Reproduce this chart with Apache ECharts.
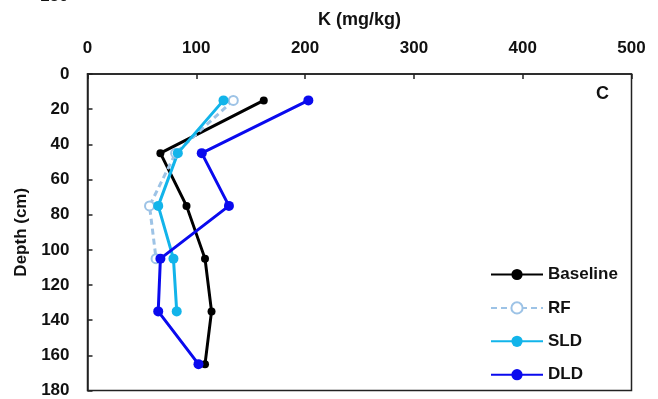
<!DOCTYPE html>
<html><head><meta charset="utf-8">
<script src="https://cdn.jsdelivr.net/npm/echarts@6/dist/echarts.min.js"></script>
<style>html,body{margin:0;padding:0;background:#fff}#c{width:658px;height:399px}</style>
</head><body><div id="c"></div>
<script>
const depths = [15, 45, 75, 105, 135, 165];
const baseline = [162, 67, 91, 108, 114, 108];
const rf = [134, 81, 57, 63];
const sld = [125, 83, 65, 79, 82];
const dld = [203, 105, 130, 67, 65, 102];
const xTicks = [0, 100, 200, 300, 400, 500];
const yTicks = [0, 20, 40, 60, 80, 100, 120, 140, 160, 180];

const pair = (vals) => vals.map((v, i) => [v, depths[i]]);
const font = 'Liberation Sans, Arial, sans-serif';
const chart = echarts.init(document.getElementById('c'));
chart.setOption({
  animation: false,
  grid: {left: 87.5, top: 74, right: 26.5, bottom: 7, show: true, borderColor: '#222', borderWidth: 1.5},
  xAxis: {
    type: 'value', position: 'top', min: xTicks[0], max: xTicks[xTicks.length-1], interval: 100,
    name: 'K (mg/kg)', nameLocation: 'middle', nameGap: 45,
    nameTextStyle: {fontFamily: font, fontWeight: 'bold', fontSize: 18, color: '#111'},
    axisLine: {show: true, lineStyle: {color: '#222', width: 1.5}},
    axisTick: {show: true, inside: true, length: 5, lineStyle: {color: '#222', width: 1.5}},
    axisLabel: {fontFamily: font, fontWeight: 'bold', fontSize: 17, color: '#111', margin: 17},
    splitLine: {show: false}
  },
  yAxis: {
    type: 'value', inverse: true, min: yTicks[0], max: yTicks[yTicks.length-1], interval: 20,
    name: 'Depth (cm)', nameLocation: 'middle', nameGap: 57,
    nameTextStyle: {fontFamily: font, fontWeight: 'bold', fontSize: 17, color: '#111'},
    axisLine: {show: true, lineStyle: {color: '#222', width: 1.5}},
    axisTick: {show: true, inside: true, length: 5, lineStyle: {color: '#222', width: 1.5}},
    axisLabel: {fontFamily: font, fontWeight: 'bold', fontSize: 17, color: '#111', margin: 18},
    splitLine: {show: false}
  },
  legend: {
    orient: 'vertical', left: 490, top: 266, height: 130, padding: 0, itemWidth: 52, itemHeight: 14, itemGap: 16.4,
    textStyle: {fontFamily: font, fontWeight: 'bold', fontSize: 17, color: '#111'},
    data: ['Baseline', 'RF', 'SLD', 'DLD']
  },
  graphic: [
    {type: 'text', left: 596, top: 85, style: {text: 'C', font: 'bold 18px ' + font, fill: '#111'}},
    {type: 'text', left: 40, top: -12, style: {text: '180', font: 'bold 17px ' + font, fill: '#111'}}
  ],
  series: [
    {name: 'Baseline', type: 'line', data: pair(baseline), symbol: 'circle', symbolSize: 8,
     itemStyle: {color: '#000'}, lineStyle: {color: '#000', width: 3}},
    {name: 'RF', type: 'line', data: pair(rf), symbol: 'emptyCircle', symbolSize: 9,
     itemStyle: {color: '#9DC3E6', borderWidth: 2}, lineStyle: {color: '#9DC3E6', width: 3, type: [6, 4]}},
    {name: 'SLD', type: 'line', data: pair(sld), symbol: 'circle', symbolSize: 10,
     itemStyle: {color: '#12B4EA'}, lineStyle: {color: '#12B4EA', width: 3}},
    {name: 'DLD', type: 'line', data: pair(dld), symbol: 'circle', symbolSize: 10,
     itemStyle: {color: '#0A0AEE'}, lineStyle: {color: '#0A0AEE', width: 3}}
  ]
});
</script></body></html>
